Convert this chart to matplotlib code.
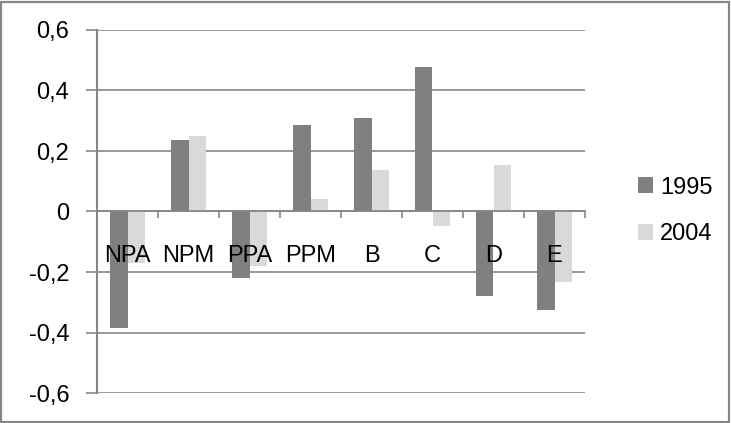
import numpy as np
import matplotlib.pyplot as plt
from matplotlib.patches import Rectangle
from matplotlib.ticker import FixedLocator, MultipleLocator, FuncFormatter

plt.rcParams['font.family'] = ['Liberation Sans', 'DejaVu Sans']

categories = ['NPA', 'NPM', 'PPA', 'PPM', 'B', 'C', 'D', 'E']
v1995 = [-0.385, 0.237, -0.22, 0.287, 0.31, 0.478, -0.279, -0.327]
v2004 = [-0.17, 0.25, -0.18, 0.042, 0.138, -0.048, 0.153, -0.234]
series = ['1995', '2004']
colors = ['#808080', '#d9d9d9']
grey = '#868686'

W, H = 731, 423
fig = plt.figure(figsize=(W / 100, H / 100), dpi=100)
ax = fig.add_axes([97 / W, 1 - 393 / H, (585 - 97) / W, (393 - 30) / H])

x = np.arange(len(categories))
w = 1 / 3.5
ax.bar(x - w / 2, v1995, w, color=colors[0], label=series[0], zorder=2)
ax.bar(x + w / 2, v2004, w, color=colors[1], label=series[1], zorder=2)

ax.set_xlim(-0.5, len(categories) - 0.5)
ax.set_ylim(-0.6, 0.6)

# y axis
ax.yaxis.set_major_locator(MultipleLocator(0.2))
ax.yaxis.set_major_formatter(FuncFormatter(
    lambda v, p: '0' if abs(v) < 1e-9 else ('%.1f' % v).replace('.', ',')))
ax.tick_params(axis='y', length=8, width=1.2, color=grey, pad=12,
               labelsize=17, labelcolor='black')
ax.grid(axis='y', color=grey, linewidth=1.2)
ax.set_axisbelow(True)

# category axis sits on zero, labels drawn over the bars
ax.spines['bottom'].set_position(('data', 0))
ax.spines['bottom'].set_color(grey)
ax.spines['bottom'].set_linewidth(1.2)
ax.spines['bottom'].set_zorder(3)
ax.spines['left'].set_color(grey)
ax.spines['left'].set_linewidth(1.5)
ax.spines['top'].set_visible(False)
ax.spines['right'].set_visible(False)
ax.set_xticks(x)
ax.set_xticklabels(categories)
ax.xaxis.set_minor_locator(FixedLocator(np.arange(-0.5, len(categories), 1)))
ax.tick_params(axis='x', which='major', length=0, pad=24, labelsize=17)
ax.tick_params(axis='x', which='minor', length=5, width=1.2, color=grey)
ax.xaxis.set_zorder(4)

leg = fig.legend(loc='center left', bbox_to_anchor=(626 / W, 1 - 211 / H),
                 frameon=False, fontsize=17, borderpad=0,
                 handlelength=0.65, handleheight=0.65, handletextpad=0.3,
                 labelspacing=1.05)

fig.patches.append(Rectangle((1 / W, 1 / H), 1 - 3 / W, 1 - 3 / H,
                             transform=fig.transFigure, fill=False,
                             edgecolor=grey, linewidth=1.6))

fig.savefig('out.png', dpi=100)
